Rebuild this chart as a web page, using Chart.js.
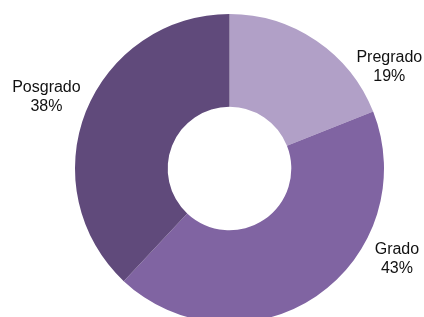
<!DOCTYPE html>
<html>
<head>
<meta charset="utf-8">
<script src="https://cdn.jsdelivr.net/npm/chart.js@4.4.1/dist/chart.umd.min.js"></script>
<style>
  html, body { margin: 0; padding: 0; background: #fff; overflow: hidden; }
  #pie-chart { display: block; }
</style>
</head>
<body>
<canvas id="pie-chart" width="424" height="340"></canvas>
<script>
// chart data
const categories = ["Pregrado", "Grado", "Posgrado"];
const shares = [19, 43, 38];
const sliceColors = ["#b1a0c7", "#8064a2", "#604a7b"];

// where each label sits around the ring (degrees clockwise from top, gap past the rim)
const labelAngles = [57.5, 118.5, 291.3];
const labelGaps = [35, 36, 42];

const outsideLabels = {
  id: "outsideLabels",
  afterDatasetsDraw(chart) {
    const ctx = chart.ctx;
    const arcs = chart.getDatasetMeta(0).data;
    ctx.save();
    ctx.font = "16px 'Liberation Sans', Arial, sans-serif";
    ctx.fillStyle = "#111";
    ctx.textAlign = "center";
    ctx.textBaseline = "middle";
    arcs.forEach((arc, i) => {
      const a = (labelAngles[i] - 90) * Math.PI / 180;
      const r = arc.outerRadius + labelGaps[i];
      const x = arc.x + Math.cos(a) * r;
      const y = arc.y + Math.sin(a) * r;
      ctx.fillText(categories[i], x, y - 9.5);
      ctx.fillText(shares[i] + "%", x, y + 9.5);
    });
    ctx.restore();
  }
};

new Chart(document.getElementById("pie-chart"), {
  type: "doughnut",
  data: {
    labels: categories,
    datasets: [{
      data: shares,
      backgroundColor: sliceColors,
      borderWidth: 0
    }]
  },
  options: {
    responsive: false,
    animation: false,
    cutout: "40%",
    layout: { padding: { top: 14, bottom: 17, left: 75, right: 40 } },
    plugins: {
      legend: { display: false },
      tooltip: { enabled: false }
    }
  },
  plugins: [outsideLabels]
});
</script>
</body>
</html>
